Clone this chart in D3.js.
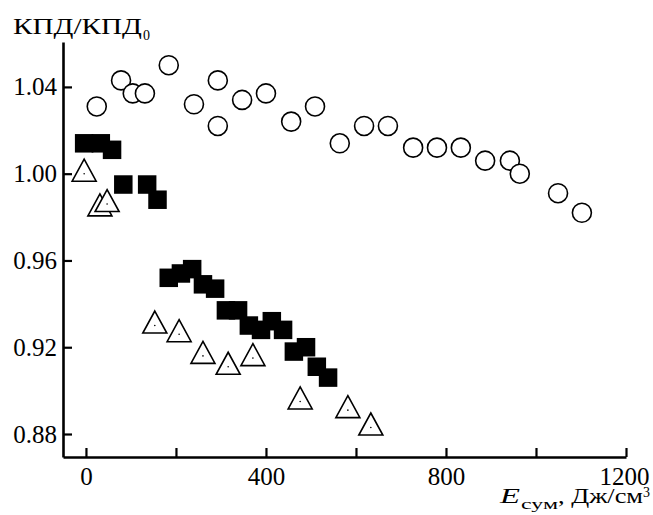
<!DOCTYPE html>
<html>
<head>
<meta charset="utf-8">
<script src="https://cdn.jsdelivr.net/npm/d3@7"></script>
<style>
  body { margin: 0; background: #fff; }
  svg text { font-family: "Liberation Serif", "Times New Roman", serif; fill: #000; }
</style>
</head>
<body>
<svg id="chart" width="653" height="515"></svg>
<script>
// open circles
var circleX = [24, 78, 104, 131, 184, 240, 293, 293, 347, 400, 456, 509, 564, 618, 671, 727, 780, 833, 887, 942, 964, 1049, 1102];
var circleY = [1.031, 1.043, 1.037, 1.037, 1.050, 1.032, 1.043, 1.022, 1.034, 1.037, 1.024, 1.031, 1.014, 1.022, 1.022, 1.012, 1.012, 1.012, 1.006, 1.006, 1.000, 0.991, 0.982];

// filled squares
var squareX = [-4, 33, 58, 83, 136, 159, 184, 211, 236, 260, 287, 311, 338, 362, 389, 413, 438, 462, 489, 513, 538];
var squareY = [1.014, 1.014, 1.011, 0.995, 0.995, 0.988, 0.952, 0.954, 0.956, 0.949, 0.947, 0.937, 0.937, 0.930, 0.928, 0.932, 0.928, 0.918, 0.920, 0.911, 0.906];

// triangles with a dot
var triangleX = [-4, 31, 47, 153, 207, 260, 316, 371, 476, 582, 633];
var triangleY = [1.000, 0.984, 0.986, 0.930, 0.926, 0.916, 0.911, 0.915, 0.895, 0.891, 0.883];

var xTicks = [0, 200, 400, 600, 800, 1000, 1200];
var xLabels = ["0", "", "400", "", "800", "", "1200"];
var yTicks = [0.88, 0.92, 0.96, 1.00, 1.04];

var svg = d3.select("#chart");

var x = d3.scaleLinear().domain([-51, 1200]).range([63, 626]);
var y = d3.scaleLinear().domain([0.8694, 1.0607]).range([457, 42]);

var zip = function(xs, ys) {
  return xs.map(function(d, i) { return [d, ys[i]]; });
};

// axes (ticks point inward)
var xAxis = d3.axisBottom(x).tickValues(xTicks).tickSizeInner(-9).tickSizeOuter(0)
  .tickFormat(function(d, i) { return xLabels[i]; });
var yAxis = d3.axisLeft(y).tickValues(yTicks).tickSizeInner(-9).tickSizeOuter(0)
  .tickFormat(d3.format(".2f"));

var gx = svg.append("g").attr("transform", "translate(0,457)").call(xAxis);
var gy = svg.append("g").attr("transform", "translate(63,0)").call(yAxis);

[gx, gy].forEach(function(g) {
  g.attr("font-family", "Liberation Serif");
  g.select(".domain").attr("stroke", "#000").attr("stroke-width", 2.6);
  g.selectAll(".tick line").attr("stroke", "#000").attr("stroke-width", 2.2);
  g.selectAll(".tick text").attr("font-size", 25);
});
gx.selectAll(".tick text").attr("y", 28).attr("dy", 0);
gy.selectAll(".tick text").attr("x", -6);
// last label sits a little left of its tick
gx.selectAll(".tick text").filter(function(d) { return d === 1200; }).attr("x", -2);

// circles
svg.append("g").selectAll("circle")
  .data(zip(circleX, circleY))
  .join("circle")
  .attr("cx", function(d) { return x(d[0]); })
  .attr("cy", function(d) { return y(d[1]); })
  .attr("r", 9.5)
  .attr("fill", "#fff")
  .attr("stroke", "#000")
  .attr("stroke-width", 1.6);

// squares
var side = 18.5;
svg.append("g").selectAll("rect")
  .data(zip(squareX, squareY))
  .join("rect")
  .attr("x", function(d) { return x(d[0]) - side / 2; })
  .attr("y", function(d) { return y(d[1]) - side / 2; })
  .attr("width", side)
  .attr("height", side)
  .attr("fill", "#000");

// triangles
var tri = svg.append("g").selectAll("g")
  .data(zip(triangleX, triangleY))
  .join("g")
  .attr("transform", function(d) { return "translate(" + x(d[0]) + "," + y(d[1]) + ")"; });
tri.append("path")
  .attr("d", "M0,-14.5L12,7.5L-12,7.5Z")
  .attr("fill", "#fff")
  .attr("stroke", "#000")
  .attr("stroke-width", 1.6)
  .attr("stroke-linejoin", "miter");
tri.append("circle").attr("r", 0.8).attr("fill", "#000");

// y title
svg.append("text").attr("x", 13).attr("y", 34).attr("font-size", 23)
  .attr("textLength", 129).attr("lengthAdjust", "spacingAndGlyphs").text("КПД/КПД");
svg.append("text").attr("x", 143).attr("y", 40).attr("font-size", 14).text("0");

// x title
svg.append("text").attr("x", 500).attr("y", 503).attr("font-size", 22)
  .attr("font-style", "italic")
  .attr("textLength", 20).attr("lengthAdjust", "spacingAndGlyphs").text("E");
svg.append("text").attr("x", 521).attr("y", 509).attr("font-size", 15)
  .attr("textLength", 37).attr("lengthAdjust", "spacingAndGlyphs").text("сум");
svg.append("text").attr("x", 558).attr("y", 503).attr("font-size", 22)
  .attr("textLength", 85).attr("lengthAdjust", "spacingAndGlyphs").text(", Дж/см");
svg.append("text").attr("x", 643).attr("y", 497).attr("font-size", 14).text("3");
</script>
</body>
</html>
